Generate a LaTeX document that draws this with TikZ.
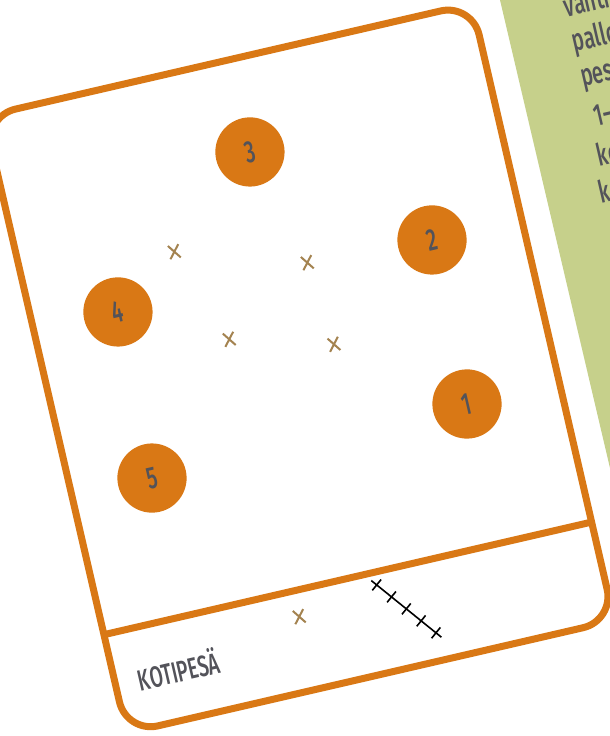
\documentclass[tikz,border=0pt]{standalone}
\usepackage{fontspec}
\setmainfont{Fira Sans Medium}[FakeStretch=0.65]
\definecolor{pesisOrange}{RGB}{217,120, 21}
\definecolor{fieldGreen} {RGB}{198,208,139}
\definecolor{inkGrey}    {RGB}{ 83, 83, 90}
\definecolor{crossBrown} {RGB}{164,131, 80}

\begin{document}
\begin{tikzpicture}[
  x=0.025cm, y=-0.025cm,
  %% Field outline and home line
  field/.style={draw=pesisOrange, line width=0.175cm, rounded corners=0.8cm},
  %% Numbered fielder disc
  player/.style={circle, fill=pesisOrange, minimum size=1.73cm,
    inner sep=0pt, text=inkGrey, font=\fontsize{22}{24}\selectfont},
  %% Small cross marks
  fielder/.style={draw=crossBrown, line width=0.05cm},
  chain/.style={draw=black, line width=0.04cm},
  %% Side note text
  note/.style={anchor=base west, rotate=13, text=inkGrey,
    font=\fontsize{22}{24}\selectfont},
]

%% ── Canvas ──────────────────────────────────────────────────────────────────
\fill[white] (0,0) rectangle (610,736);
\useasboundingbox (0,0) rectangle (610,736);

%% ── Side panel ──────────────────────────────────────────────────────────────
\fill[fieldGreen] (500,0) -- (612,0) -- (612,476.6) -- cycle;
\node[note] (n1) at (561.7, 18.3) {vahti};
\node[note] (n2) at (570.0, 53.0) {pallo};
\node[note] (n3) at (578.3, 88.0) {pesä};
\node[note] (n4) at (591.7,128.0) {1–};
\node[note] (n5) at (595.0,168.0) {ke};
\node[note] (n6) at (596.7,205.0) {k};

%% ── Field (rotated card) ────────────────────────────────────────────────────
\def\cx{299.3}
\def\cy{368.4}
\def\hw{250.25}  % half width
\def\hh{316.5}   % half height
\def\yHome{215.5}

\begin{scope}[shift={(\cx,\cy)}, rotate=13, transform shape]
  \draw[field, fill=white] (-\hw,-\hh) rectangle (\hw,\hh);
  \draw[field, rounded corners=0pt] (-\hw,\yHome) -- (\hw,\yHome);

  %% fielders 1--5
  \node[player] (p1) at ( 155.4, 72.4) {1};
  \node[player] (p2) at ( 158.2,-95.3) {2};
  \node[player] (p3) at (   0.6,-222.0) {3};
  \node[player] (p4) at (-164.0,-95.8) {4};
  \node[player] (p5) at (-168.2, 73.7) {5};

  %% cross marks
  \foreach \u/\v in {-95.5/-141.8, 31.6/-101.2, -61.7/-44.1,
                     39.2/-15.7, -55.9/241.9}
    \draw[fielder, shift={(\u,\v)}]
      (-5,-7) -- (5,7) (5.5,-6.5) -- (-5.5,6.5);

  %% batting queue
  \draw[chain] (22.4,222.9) -- (78.0,293.9);
  \foreach \i in {0,...,4}
    \draw[chain, shift={({26.7+11.75*\i},{228.4+15*\i})}]
      (-5.5,4.3) -- (5.5,-4.3);

  \node[text=inkGrey, font=\fontsize{21}{23}\selectfont]
    (home) at (-185.5,265.7) {KOTIPESÄ};
\end{scope}

\end{tikzpicture}
\end{document}
